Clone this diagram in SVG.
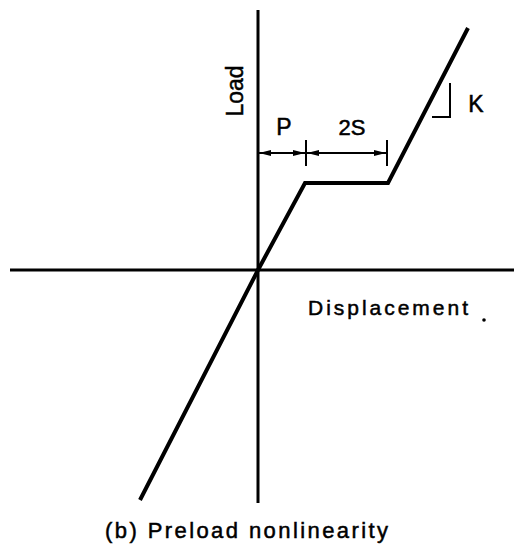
<svg xmlns="http://www.w3.org/2000/svg" width="514" height="550" viewBox="0 0 514 550">
<style>
.ax{stroke:#000;stroke-width:3;fill:none}
.cv{stroke:#000;stroke-width:4;fill:none;stroke-linejoin:miter}
.dim{stroke:#000;stroke-width:2;fill:none}
.t{font-family:"Liberation Sans",Arial,sans-serif;fill:#000;stroke:#000;stroke-width:0.5}
</style>
<defs>
<marker id="ah" viewBox="0 0 12 6" refX="12" refY="3" markerWidth="12" markerHeight="6" markerUnits="userSpaceOnUse" orient="auto-start-reverse">
<path d="M0,0 L12,3 L0,6 Z" fill="#000"/>
</marker>
</defs>
<rect width="514" height="550" fill="#fff"/>
<g id="axes">
<line class="ax" x1="258" y1="10" x2="258" y2="503"/>
<line class="ax" x1="10" y1="270" x2="514" y2="270"/>
</g>
<g id="curve">
<polyline class="cv" points="140,500 258,270 305,183 388,183 468,28"/>
</g>
<g id="connectors">
<line class="dim" x1="259" y1="153" x2="305" y2="153" marker-start="url(#ah)" marker-end="url(#ah)"/>
<line class="dim" x1="307" y1="153" x2="386" y2="153" marker-start="url(#ah)" marker-end="url(#ah)"/>
<line class="dim" x1="306" y1="140" x2="306" y2="166"/>
<line class="dim" x1="387" y1="140" x2="387" y2="166"/>
<polyline class="dim" points="450,83 450,117 432,117"/>
</g>
<g id="labels">
<text class="t" font-size="23" transform="translate(243,91) rotate(-90)" text-anchor="middle">Load</text>
<text class="t" font-size="23" x="284" y="135" text-anchor="middle">P</text>
<text class="t" font-size="22" x="352" y="135" text-anchor="middle">2S</text>
<text class="t" font-size="23" x="476" y="112" text-anchor="middle">K</text>
<text class="t" font-size="21" x="308" y="315" textLength="160" lengthAdjust="spacing">Displacement</text>
<circle cx="484" cy="320" r="1.8" fill="#000"/>
<text class="t" font-size="22" x="105" y="538" textLength="283" lengthAdjust="spacing">(b) Preload nonlinearity</text>
</g>
</svg>
